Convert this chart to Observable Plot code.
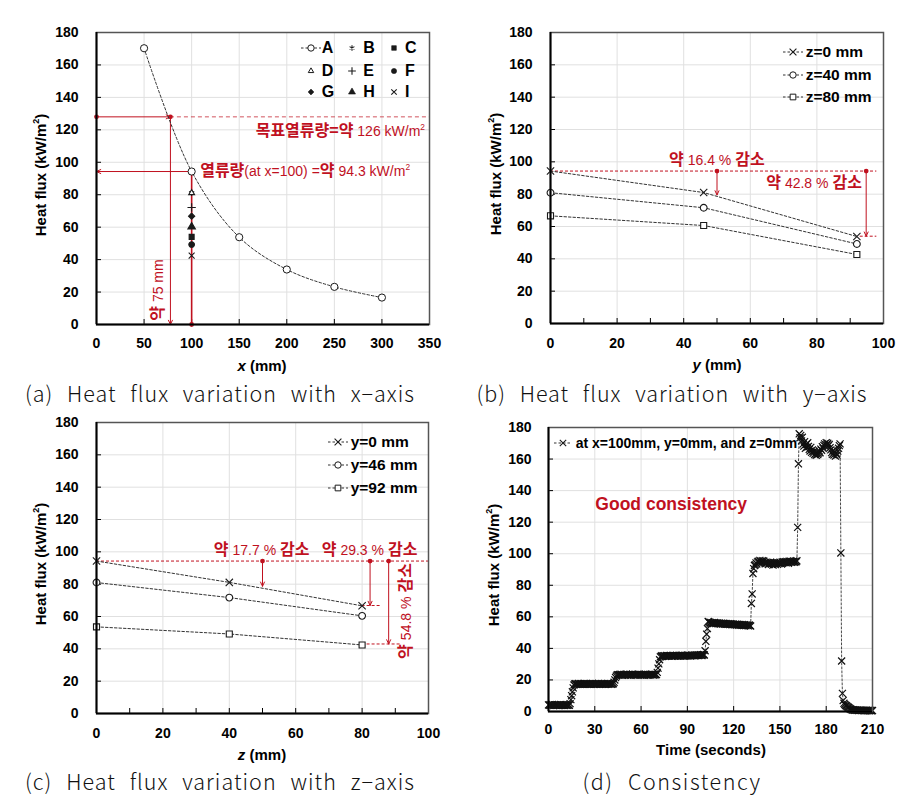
<!DOCTYPE html>
<html><head><meta charset="utf-8">
<script src="https://cdn.jsdelivr.net/npm/d3@7"></script>
<script src="https://cdn.jsdelivr.net/npm/@observablehq/plot@0.6"></script>
<style>
body{margin:0;background:#fff;}
#fig{position:relative;width:919px;height:797px;overflow:hidden;background:#fff;}
.panel{position:absolute;}
.panel > svg{position:absolute;left:0;top:0;overflow:visible;}
.ov{position:absolute;white-space:nowrap;line-height:1;}
.num{font-family:"Liberation Sans Narrow","Arial Narrow","Liberation Sans",Arial,sans-serif;}
.kr{font-family:"Noto Sans CJK KR","Noto Sans",sans-serif;font-weight:700;}
.red{color:#c0111f;}
.ov sup{font-size:0.6em;vertical-align:0.7em;line-height:0;}
.axt{font-family:"Liberation Sans Narrow","Arial Narrow","Liberation Sans",Arial,sans-serif;font-weight:bold;font-size:15px;color:#000;}
.cap{font-family:"Noto Sans CJK KR","Noto Sans",sans-serif;font-weight:300;font-size:21.5px;color:#111;}
.leg{font-family:"Liberation Sans Narrow","Arial Narrow","Liberation Sans",Arial,sans-serif;font-weight:bold;color:#000;}
</style></head>
<body><div id="fig"></div>
<script>
// ---------------- DATA ----------------
// (a) heat flux along x
const xA = [50, 100, 150, 200, 250, 300];
const fluxA = [170.3, 94.3, 53.8, 33.9, 23.2, 16.6];
const seriesAt100 = ["B", "C", "D", "E", "F", "G", "H", "I"];
const fluxAt100 = [81.1, 54.0, 81.1, 72.1, 49.3, 66.8, 60.2, 42.5];
const legendA = ["A", "B", "C", "D", "E", "F", "G", "H", "I"];
const targetFlux = 128;   // 목표열류량 level line
const targetX = 77.7;     // 약 75 mm crossing
const flux100 = 94.3;     // heat flux at x=100
const xTicksA = [0, 50, 100, 150, 200, 250, 300, 350];

// (b) heat flux along y
const yPos = [0, 46, 92];
const fluxZ0 = [94.3, 81.0, 53.8];
const fluxZ40 = [80.9, 71.6, 49.2];
const fluxZ80 = [66.6, 60.6, 42.7];
const legendB = ["z=0 mm", "z=40 mm", "z=80 mm"];
const dropB = [{x: 50, to: 79.5, label: "16.4 %"}, {x: 94.8, to: 54.0, label: "42.8 %"}];

// (c) heat flux along z
const zPos = [0, 40, 80];
const fluxY0 = [94.3, 81.1, 66.6];
const fluxY46 = [81.0, 71.7, 60.4];
const fluxY92 = [53.6, 49.2, 42.4];
const legendC = ["y=0 mm", "y=46 mm", "y=92 mm"];
const dropC = [{x: 50, to: 78.7, label: "17.7 %"}, {x: 82.4, to: 66.8, label: "29.3 %"}, {x: 88, to: 43.0, label: "54.8 %"}];

const xTicks100 = [0, 20, 40, 60, 80, 100];
const xMinor100 = [0, 10, 20, 30, 40, 50, 60, 70, 80, 90, 100];
const yTicks = [0, 20, 40, 60, 80, 100, 120, 140, 160, 180];

// (d) consistency time series, sampled every 0.5 s
const dT = 0.5;
const fluxD = [
 // 0–13.5 s
 4.2,4.0,4.3,3.9,4.1,4.4,4.0,3.8,4.2,4.1,3.9,4.3,4.0,4.2,3.8,4.1,4.4,4.0,3.9,4.2,4.1,3.8,4.3,4.0,4.1,3.9,4.2,4.0,
 // 14–16.5 s
 5.0,7.5,10.0,12.5,15.0,16.8,
 // 17–42 s
 17.4,17.6,17.2,17.5,17.3,17.7,17.4,17.2,17.6,17.5,
 17.3,17.4,17.7,17.2,17.5,17.6,17.3,17.4,17.5,17.2,
 17.6,17.4,17.3,17.7,17.5,17.2,17.4,17.6,17.3,17.5,
 17.4,17.7,17.2,17.5,17.3,17.6,17.4,17.5,17.2,17.6,
 17.3,17.5,17.4,17.7,17.3,17.5,17.6,17.4,17.2,17.5,17.6,
 // 42.5–44.5 s
 18.5,20.0,21.5,22.5,23.2,
 // 45–70 s
 23.4,23.1,23.5,23.2,23.6,23.3,23.0,23.4,23.5,23.2,
 23.3,23.6,23.1,23.4,23.2,23.5,23.3,23.0,23.4,23.6,
 23.2,23.3,23.5,23.1,23.4,23.2,23.6,23.3,23.5,23.1,
 23.4,23.3,23.2,23.5,23.0,23.4,23.6,23.2,23.3,23.5,
 23.1,23.4,23.2,23.6,23.3,23.5,23.1,23.4,23.2,23.5,23.4,
 // 70.5–72.5 s
 24.8,27.5,30.2,32.8,34.6,
 // 73–101 s
 35.0,35.3,34.9,35.2,35.4,35.1,35.0,35.5,35.2,35.3,
 35.1,35.4,35.6,35.2,35.0,35.3,35.5,35.1,35.4,35.2,
 35.6,35.3,35.1,35.5,35.4,35.2,35.7,35.3,35.5,35.1,
 35.4,35.6,35.2,35.5,35.3,35.7,35.4,35.6,35.2,35.5,
 35.8,35.4,35.6,35.3,35.7,35.5,35.9,35.6,35.4,35.8,
 35.6,36.0,35.7,35.5,35.9,36.1,35.8,
 // 101.5–103.5 s
 38.5,44.5,49.0,52.5,57.0,
 // 104–131 s
 56.8,56.2,56.5,55.9,56.3,56.1,55.8,56.4,56.0,55.7,
 56.2,55.9,55.6,56.1,55.8,55.5,56.0,55.7,55.4,55.9,
 55.6,55.3,55.8,55.5,55.2,55.7,55.4,55.1,55.6,55.3,
 55.0,55.5,55.2,54.9,55.4,55.1,54.8,55.3,55.0,54.7,
 55.2,54.9,54.6,55.1,54.8,54.5,55.0,54.7,54.4,54.9,
 54.6,54.3,54.8,54.5,54.2,
 // 131.5–133.5 s
 68.5,74.5,87.5,90.5,92.5,
 // 134–161 s
 93.0,94.2,93.5,94.8,95.3,94.6,95.8,95.1,94.4,95.6,
 94.9,95.4,94.2,93.6,94.7,93.9,94.5,93.2,94.1,93.7,
 94.6,93.4,94.0,92.8,93.6,94.3,93.1,93.9,94.5,93.3,
 94.2,93.8,94.6,94.1,93.5,94.8,94.3,95.0,94.4,94.9,
 94.2,95.1,94.6,94.0,95.3,94.7,95.2,94.5,95.0,94.8,
 95.4,94.6,95.1,94.9,95.5,
 // 161.5–163 s
 116.7,157.0,176.0,173.5,
 // 163.5–189 s
 175.0,171.5,173.8,169.5,168.2,171.0,166.8,169.2,167.5,170.3,
 168.0,166.2,165.1,167.4,164.3,165.8,163.6,164.9,162.8,163.5,
 162.4,164.1,162.9,163.8,165.2,164.0,166.3,165.5,167.9,166.8,
 168.7,169.6,168.2,170.4,169.1,170.0,168.5,169.3,167.2,165.8,
 164.1,163.0,165.4,162.6,164.5,161.9,163.7,162.5,165.0,166.8,
 168.5,169.6,
 // 189.5–196 s
 100.5,32.0,11.5,7.0,5.2,4.5,4.0,3.6,3.2,2.9,2.5,2.1,1.7,1.4,
 // 196.5–210 s
 1.2,1.0,1.1,0.9,0.8,1.0,0.7,0.9,0.8,0.6,0.8,0.7,0.9,0.6,0.7,0.8,0.5,0.7,0.6,0.8,0.5,0.7,0.6,0.5,0.7,0.6,0.5,0.6
];
const xTicksD = [0, 30, 60, 90, 120, 150, 180, 210];
const legendD = "at x=100mm, y=0mm, and z=0mm";
const noteD = {t: 30.7, v: 130.4, text: "Good consistency"};

const captions = [
  "(a) Heat flux variation with x−axis",
  "(b) Heat flux variation with y−axis",
  "(c) Heat flux variation with z−axis",
  "(d) Consistency"
];

// ---------------- STYLE / HELPERS ----------------
const RED = "#c0111f";
const INK = "#1a1a1a";
const NARROW = `"Liberation Sans Narrow","Arial Narrow","Liberation Sans",Arial,sans-serif`;
const fig = document.getElementById("fig");

function makePanel(left, top, w, h) {
  const d = document.createElement("div");
  d.className = "panel";
  Object.assign(d.style, {left: left + "px", top: top + "px", width: w + "px", height: h + "px"});
  fig.appendChild(d);
  return d;
}

function frameMarks(xTicks, xMinor, innerW, innerH, xMin, tickPadX, tickPadY) {
  return [
    Plot.gridX({ticks: xTicks, stroke: "#e0e0e0", strokeOpacity: 1}),
    Plot.gridY({ticks: yTicks, stroke: "#e0e0e0", strokeOpacity: 1}),
    Plot.tickX(xMinor, {x: d => d, stroke: "#000", insetTop: innerH - 5}),
    Plot.tickY(yTicks, {y: d => d, stroke: "#000", insetRight: innerW - 5}),
    Plot.axisX({ticks: xTicks, tickSize: 0, tickPadding: tickPadX, fontSize: 14, fontWeight: "bold", label: null, tickFormat: d => d}),
    Plot.axisY({ticks: yTicks, tickSize: 0, tickPadding: tickPadY, fontSize: 14, fontWeight: "bold", label: null, tickFormat: d => d})
  ];
}
function borderMarks(xMin) {
  return [
    Plot.frame({stroke: "#555", strokeWidth: 1.5}),
    Plot.ruleX([xMin], {stroke: "#000", strokeWidth: 2}),
    Plot.ruleY([0], {stroke: "#000", strokeWidth: 2})
  ];
}

function overlay(panel, plot, x, y, html, anchor = "middle", rotate = 0, cls = "") {
  const px = plot.scale("x").apply(x), py = plot.scale("y").apply(y);
  const el = document.createElement("div");
  el.className = "ov " + cls;
  el.innerHTML = html;
  el.style.left = px + "px";
  el.style.top = py + "px";
  const tx = anchor === "start" ? "0" : anchor === "end" ? "-100%" : "-50%";
  el.style.transform = `translate(${tx},-50%)` + (rotate ? ` rotate(${rotate}deg)` : "");
  panel.appendChild(el);
  return el;
}

function absText(html, cx, cy, cls, rotate = 0) {
  const el = document.createElement("div");
  el.className = "ov " + cls;
  el.innerHTML = html;
  el.style.left = cx + "px";
  el.style.top = cy + "px";
  el.style.transform = "translate(-50%,-50%)" + (rotate ? ` rotate(${rotate}deg)` : "");
  fig.appendChild(el);
  return el;
}

const SYM = {circle: d3.symbolCircle, asterisk: d3.symbolAsterisk, square: d3.symbolSquare, triangle: d3.symbolTriangle,
  plus: d3.symbolPlus, diamond2: d3.symbolDiamond2, times: d3.symbolTimes, triangle2: d3.symbolTriangle2};
const STROKED = new Set(["asterisk", "plus", "times"]);

function legendItem(panel, sx, sy, sym, fill, r, line, textX, label, fontSize) {
  const ns = "http://www.w3.org/2000/svg";
  const svg = document.createElementNS(ns, "svg");
  svg.setAttribute("width", 40); svg.setAttribute("height", 20);
  Object.assign(svg.style, {position: "absolute", left: (sx - 20) + "px", top: (sy - 10) + "px", overflow: "visible"});
  if (line) {
    const l = document.createElementNS(ns, "line");
    l.setAttribute("x1", 20 - line); l.setAttribute("x2", 20 + line);
    l.setAttribute("y1", 10); l.setAttribute("y2", 10);
    l.setAttribute("stroke", "#333"); l.setAttribute("stroke-width", 1); l.setAttribute("stroke-dasharray", "2.5,2");
    svg.appendChild(l);
  }
  const p = document.createElementNS(ns, "path");
  p.setAttribute("d", d3.symbol(SYM[sym], r * r * Math.PI)());
  p.setAttribute("transform", "translate(20,10)");
  if (STROKED.has(sym)) { p.setAttribute("fill", "none"); p.setAttribute("stroke", INK); p.setAttribute("stroke-width", 1.1); }
  else if (fill) { p.setAttribute("fill", INK); p.setAttribute("stroke", INK); p.setAttribute("stroke-width", 0.6); }
  else { p.setAttribute("fill", "#fff"); p.setAttribute("stroke", INK); p.setAttribute("stroke-width", 1); }
  svg.appendChild(p);
  panel.appendChild(svg);
  const t = document.createElement("div");
  t.className = "ov leg";
  t.textContent = label;
  Object.assign(t.style, {left: textX + "px", top: sy + "px", fontSize: fontSize + "px", transform: "translate(0,-50%)"});
  panel.appendChild(t);
}

const KRS = 16, NUMS = 14;
function kr(s) { return `<span class="kr" style="font-size:${KRS}px">${s}</span>`; }
function nm(s) { return `<span class="num" style="font-size:${NUMS}px">${s}</span>`; }
function redDropLabel(label) {
  return `${kr("약")} ${nm(label)} ${kr("감소")}`;
}

// ---------------- PANEL (a) ----------------
{
  const W = 460, H = 370, ml = 96, mr = 31, mt = 32, mb = 46;
  const panel = makePanel(0, 0, W, H);
  const tblA = xA.map((x, i) => ({x, v: fluxA[i]}));
  const tbl100 = seriesAt100.map((s, i) => ({s, x: 100, v: fluxAt100[i]}));
  const symOf = {B: "asterisk", C: "square", D: "triangle2", E: "plus", F: "circle", G: "diamond2", H: "triangle", I: "times"};
  const filledOf = {C: true, F: true, G: true, H: true};
  const plot = Plot.plot({
    width: W, height: H, marginLeft: ml, marginRight: mr, marginTop: mt, marginBottom: mb,
    x: {domain: [0, 350]}, y: {domain: [0, 180]},
    style: {fontFamily: NARROW, fontSize: "14px", fontWeight: "bold", color: "#000", background: "transparent", overflow: "visible"},
    marks: [
      ...frameMarks(xTicksA, xTicksA, W - ml - mr, H - mt - mb, 0, 14, 18),
      // annotations
      Plot.ruleY([targetFlux], {x1: targetX, x2: 350, stroke: RED, strokeWidth: 0.9, strokeDasharray: "4,3", strokeOpacity: 0.8}),
      Plot.arrow([{x1: 0, y1: targetFlux, x2: targetX, y2: targetFlux}], {x1: "x1", y1: "y1", x2: "x2", y2: "y2", stroke: RED, strokeWidth: 1, headLength: 7, headAngle: 50}),
      Plot.arrow([{x1: targetX, y1: targetFlux, x2: targetX, y2: 0}], {x1: "x1", y1: "y1", x2: "x2", y2: "y2", stroke: RED, strokeWidth: 1, headLength: 7, headAngle: 50}),
      Plot.arrow([{x1: 100, y1: flux100, x2: 0, y2: flux100}], {x1: "x1", y1: "y1", x2: "x2", y2: "y2", stroke: RED, strokeWidth: 1, headLength: 7, headAngle: 50}),
      Plot.ruleX([100], {y1: 0, y2: flux100, stroke: RED, strokeWidth: 1.6}),
      Plot.dot([{x: 0, y: targetFlux}, {x: targetX, y: targetFlux}, {x: 100, y: 0}], {x: "x", y: "y", r: 2.4, fill: RED}),
      // data
      Plot.line(tblA, {x: "x", y: "v", curve: "catmull-rom", stroke: "#333", strokeWidth: 1, strokeDasharray: "2.5,2"}),
      Plot.dot(tblA, {x: "x", y: "v", r: 3.6, symbol: "circle", fill: "#fff", stroke: INK, strokeWidth: 1}),
      Plot.dot(tbl100, {x: "x", y: "v", symbol: d => symOf[d.s], r: 2.8,
        fill: d => filledOf[d.s] ? INK : (STROKED.has(symOf[d.s]) ? "none" : "#fff"),
        stroke: INK, strokeWidth: 1.1}),
      ...borderMarks(0)
    ]
  });
  panel.appendChild(plot);
  overlay(panel, plot, 345.8, 119.8, `${kr("목표열류량=약")}${nm(" 126 kW/m<sup>2</sup>")}`, "end", 0, "red");
  overlay(panel, plot, 109.5, 94.7, `${kr("열류량")}${nm("(at x=100) =")}${kr("약")}${nm(" 94.3 kW/m<sup>2</sup>")}`, "start", 0, "red");
  overlay(panel, plot, 64, 21.1, `${kr("약")}${nm(" 75 mm")}`, "middle", -90, "red");
  // legend 3x3
  const cols = [[310.7, 321.7], [351.7, 363.3], [394, 405]];
  const rows = [47.5, 70.7, 92];
  legendA.forEach((s, i) => {
    const c = cols[i % 3], r = rows[Math.floor(i / 3)];
    if (s === "A") legendItem(panel, c[0], r, "circle", false, 3.2, 10, c[1], s, 16);
    else legendItem(panel, c[0], r, symOf[s], !!filledOf[s], 2.6, 0, c[1], s, 16);
  });
}

// ---------------- PANEL (b) ----------------
{
  const W = 459, H = 370, ml = 90, mr = 36, mt = 32, mb = 47;
  const panel = makePanel(460, 0, W, H);
  const rows = [];
  [["z0", fluxZ0], ["z40", fluxZ40], ["z80", fluxZ80]].forEach(([k, arr]) => arr.forEach((v, i) => rows.push({k, x: yPos[i], v})));
  const symOf = {z0: "times", z40: "circle", z80: "square"};
  const plot = Plot.plot({
    width: W, height: H, marginLeft: ml, marginRight: mr, marginTop: mt, marginBottom: mb,
    x: {domain: [0, 100]}, y: {domain: [0, 180]},
    style: {fontFamily: NARROW, fontSize: "14px", fontWeight: "bold", color: "#000", background: "transparent", overflow: "visible"},
    marks: [
      ...frameMarks(xTicks100, xMinor100, W - ml - mr, H - mt - mb, 0, 15, 18),
      Plot.ruleY([flux100], {x1: 0, x2: 98, stroke: RED, strokeWidth: 1, strokeDasharray: "3,2"}),
      Plot.ruleY([dropB[1].to], {x1: 93, x2: 98, stroke: RED, strokeWidth: 1, strokeDasharray: "3,2"}),
      Plot.arrow(dropB, {x1: "x", x2: "x", y1: flux100, y2: "to", stroke: RED, strokeWidth: 1, headLength: 7, headAngle: 50}),
      Plot.dot(dropB, {x: "x", y: flux100, r: 2.4, fill: RED}),
      Plot.line(rows, {x: "x", y: "v", z: "k", stroke: "#333", strokeWidth: 1, strokeDasharray: "2.5,2"}),
      Plot.dot(rows, {x: "x", y: "v", symbol: d => symOf[d.k], r: 3.4, fill: d => d.k === "z0" ? "none" : "#fff", stroke: INK, strokeWidth: 1.1}),
      ...borderMarks(0)
    ]
  });
  panel.appendChild(plot);
  overlay(panel, plot, 50.1, 101.4, redDropLabel(dropB[0].label), "middle", 0, "red");
  overlay(panel, plot, 79.3, 87, redDropLabel(dropB[1].label), "middle", 0, "red");
  const ly = [52.3, 75, 97.3];
  ["times", "circle", "square"].forEach((s, i) => legendItem(panel, 333.3, ly[i], s, false, 3.2, 10, 345.7, legendB[i], 15.5));
}

// ---------------- PANEL (c) ----------------
{
  const W = 460, H = 370, ml = 96, mr = 32, mt = 42, mb = 37;
  const panel = makePanel(0, 380, W, H);
  const rows = [];
  [["y0", fluxY0], ["y46", fluxY46], ["y92", fluxY92]].forEach(([k, arr]) => arr.forEach((v, i) => rows.push({k, x: zPos[i], v})));
  const symOf = {y0: "times", y46: "circle", y92: "square"};
  const plot = Plot.plot({
    width: W, height: H, marginLeft: ml, marginRight: mr, marginTop: mt, marginBottom: mb,
    x: {domain: [0, 100]}, y: {domain: [0, 180]},
    style: {fontFamily: NARROW, fontSize: "14px", fontWeight: "bold", color: "#000", background: "transparent", overflow: "visible"},
    marks: [
      ...frameMarks(xTicks100, xMinor100, W - ml - mr, H - mt - mb, 0, 14.5, 18),
      Plot.ruleY([flux100], {x1: 0, x2: 100, stroke: RED, strokeWidth: 1, strokeDasharray: "3,2"}),
      Plot.ruleY([dropC[1].to], {x1: 80, x2: 85.5, stroke: RED, strokeWidth: 1, strokeDasharray: "3,2"}),
      Plot.ruleY([dropC[2].to], {x1: 81.5, x2: 92, stroke: RED, strokeWidth: 1, strokeDasharray: "3,2"}),
      Plot.arrow(dropC, {x1: "x", x2: "x", y1: flux100, y2: "to", stroke: RED, strokeWidth: 1, headLength: 7, headAngle: 50}),
      Plot.dot(dropC, {x: "x", y: flux100, r: 2.4, fill: RED}),
      Plot.line(rows, {x: "x", y: "v", z: "k", stroke: "#333", strokeWidth: 1, strokeDasharray: "2.5,2"}),
      Plot.dot(rows, {x: "x", y: "v", symbol: d => symOf[d.k], r: 3.4, fill: d => d.k === "y0" ? "none" : "#fff", stroke: INK, strokeWidth: 1.1}),
      ...borderMarks(0)
    ]
  });
  panel.appendChild(plot);
  overlay(panel, plot, 49.9, 101.4, redDropLabel(dropC[0].label), "middle", 0, "red");
  overlay(panel, plot, 82.4, 101.4, redDropLabel(dropC[1].label), "middle", 0, "red");
  overlay(panel, plot, 93, 63.4, redDropLabel(dropC[2].label), "middle", -90, "red");
  const ly = [62.3, 85, 107.7];
  ["times", "circle", "square"].forEach((s, i) => legendItem(panel, 338.3, ly[i], s, false, 3.2, 10, 350.7, legendC[i], 15.5));
}

// ---------------- PANEL (d) ----------------
{
  const W = 459, H = 370, ml = 88, mr = 47, mt = 47, mb = 39;
  const panel = makePanel(460, 380, W, H);
  const rows = fluxD.map((v, i) => ({t: i * dT, v}));
  const plot = Plot.plot({
    width: W, height: H, marginLeft: ml, marginRight: mr, marginTop: mt, marginBottom: mb,
    x: {domain: [0, 210]}, y: {domain: [0, 180]},
    style: {fontFamily: NARROW, fontSize: "14px", fontWeight: "bold", color: "#000", background: "transparent", overflow: "visible"},
    marks: [
      ...frameMarks(xTicksD, xTicksD, W - ml - mr, H - mt - mb, 0, 13, 17),
      Plot.line(rows, {x: "t", y: "v", stroke: "#333", strokeWidth: 0.9, strokeDasharray: "2,2"}),
      Plot.dot(rows, {x: "t", y: "v", symbol: "times", r: 3.3, stroke: "#111", strokeWidth: 1.2}),
      ...borderMarks(0)
    ]
  });
  panel.appendChild(plot);
  overlay(panel, plot, noteD.t, noteD.v, noteD.text, "start", 0, "red num");
  panel.lastChild.style.fontSize = "17.5px";
  panel.lastChild.style.fontWeight = "bold";
  legendItem(panel, 103.3, 63.3, "times", false, 3, 9, 115.7, legendD, 14);
}

// ---------------- AXIS TITLES ----------------
const yTitle = `Heat flux (kW/m<sup>2</sup>)`;
absText(`<i>x</i> (mm)`, 262, 365, "axt");
absText(`<i>y</i> (mm)`, 717, 364, "axt");
absText(`<i>z</i> (mm)`, 262, 754, "axt");
absText(`Time (seconds)`, 711, 749, "axt");
absText(yTitle, 40, 175, "axt", -90);
absText(yTitle, 495, 174, "axt", -90);
absText(yTitle, 40, 564, "axt", -90);
absText(yTitle, 493, 565, "axt", -90);

// ---------------- CAPTIONS ----------------
const capPos = [[220, 393, 390], [672, 393, 391], [220, 781, 390], [672, 781, 179]];
const WORD_GAP = 8;
captions.forEach((c, i) => {
  const el = absText(c, capPos[i][0], capPos[i][1], "cap");
  const words = c.split(" ").length - 1;
  el.style.wordSpacing = "0px";
  el.style.letterSpacing = "0px";
  const w = el.getBoundingClientRect().width;
  const ls = (capPos[i][2] - w - words * WORD_GAP) / c.length;
  el.style.wordSpacing = WORD_GAP + "px";
  el.style.letterSpacing = ls + "px";
});
</script></body></html>
